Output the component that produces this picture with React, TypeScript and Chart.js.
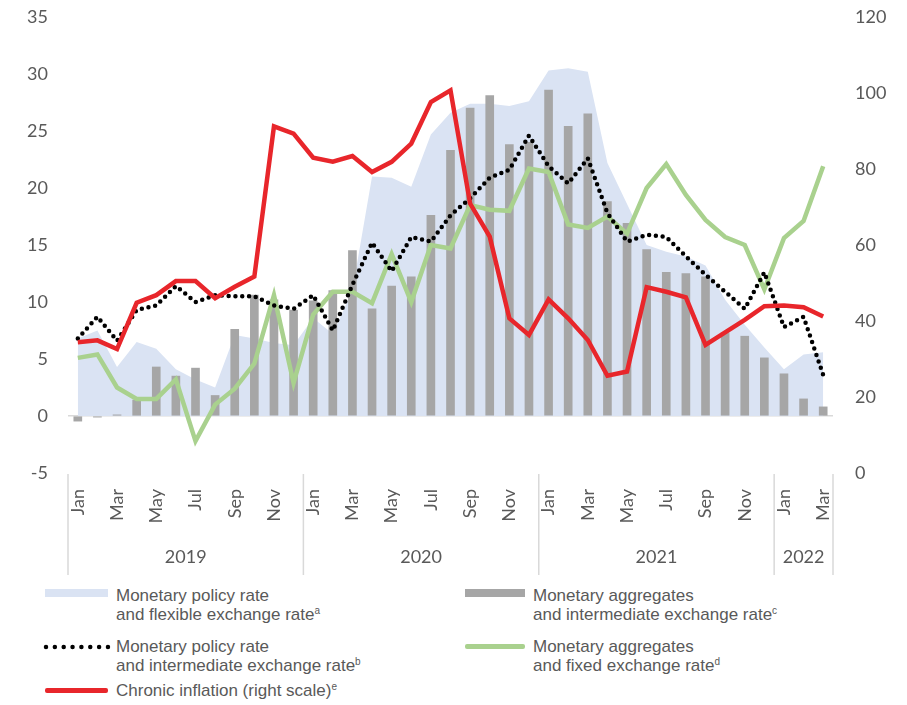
import React, { useEffect, useRef } from 'react';
import { Chart, registerables } from 'chart.js';

Chart.register(...registerables);

// ---- Data ----
const monthLabels = [
  'Jan','Feb','Mar','Apr','May','Jun','Jul','Aug','Sep','Oct','Nov','Dec',
  'Jan','Feb','Mar','Apr','May','Jun','Jul','Aug','Sep','Oct','Nov','Dec',
  'Jan','Feb','Mar','Apr','May','Jun','Jul','Aug','Sep','Oct','Nov','Dec',
  'Jan','Feb','Mar',
];
const yearLabels = ['2019', '2020', '2021', '2022'];
const monthsPerYear = [12, 12, 12, 3];

const leftTicks = [-5, 0, 5, 10, 15, 20, 25, 30, 35];
const rightTicks = [0, 20, 40, 60, 80, 100, 120];

// Monetary policy rate and flexible exchange rate (area)
const flexibleRate = [
  6.8, 7.5, 4.3, 6.5, 5.9, 4.1, 3.2, 2.5, 7.1, 6.8, 6.4, 6.2,
  8.6, 7.2, 11.0, 21.0, 20.9, 20.1, 24.7, 26.6, 27.4, 27.4, 27.2, 27.6,
  30.3, 30.5, 30.2, 22.2, 18.6, 15.0, 14.4, 14.0, 13.2, 10.2, 8.0, 6.0,
  4.1, 5.4, 5.6,
];
// Monetary aggregates and intermediate exchange rate (bars)
const aggIntermediate = [
  -0.45, -0.1, 0.1, 1.4, 4.3, 3.5, 4.2, 1.8, 7.6, 10.6, 10.2, 9.3,
  10.1, 11.0, 14.5, 9.4, 11.4, 12.2, 17.6, 23.3, 27.0, 28.1, 23.8, 24.0,
  28.6, 25.4, 26.5, 18.8, 16.9, 14.6, 12.6, 12.5, 12.2, 7.3, 7.0, 5.1,
  3.7, 1.5, 0.8,
];
// Monetary policy rate and intermediate exchange rate (dotted)
const policyIntermediate = [
  6.8, 8.7, 6.6, 9.3, 9.7, 11.4, 10.0, 10.6, 10.5, 10.5, 9.7, 9.4,
  10.6, 7.5, 11.5, 15.2, 12.7, 15.7, 15.3, 17.6, 19.1, 20.9, 21.6, 24.6,
  21.9, 20.4, 22.6, 17.8, 15.3, 15.9, 15.7, 14.0, 12.4, 10.9, 9.4, 12.6,
  7.8, 8.7, 3.6,
];
// Monetary aggregates and fixed exchange rate (green)
const fixedAgg = [
  5.1, 5.4, 2.5, 1.5, 1.5, 3.2, -2.2, 1.0, 2.4, 4.6, 10.6, 2.9,
  8.9, 10.9, 10.9, 9.9, 14.2, 10.0, 15.0, 14.7, 18.5, 18.1, 18.0, 21.7,
  21.4, 16.8, 16.5, 17.5, 16.0, 20.0, 22.1, 19.4, 17.2, 15.7, 15.0, 11.1,
  15.6, 17.1, 21.9,
];
// Chronic inflation (right scale)
const chronicInflation = [
  34.4, 34.9, 32.6, 44.8, 46.8, 50.5, 50.5, 46.0, 49.0, 51.7, 91.2, 89.3,
  83.0, 81.9, 83.4, 79.2, 81.9, 86.7, 97.6, 100.7, 70.9, 62.2, 40.7, 36.3,
  45.7, 40.7, 35.0, 25.6, 26.7, 48.9, 47.7, 46.2, 33.7, 37.0, 40.3, 43.9,
  44.1, 43.6, 41.2,
];

const TEXT = '#595959';
const TICK_FONT = 'Lato, "Open Sans", sans-serif';
const LEGEND_FONT = '"Liberation Sans", Arial, sans-serif';

const yearGroupPlugin = {
  id: 'yearGroups',
  afterDraw(chart: any) {
    const { ctx, chartArea } = chart;
    const x = chart.scales.x;
    const step = x.getPixelForValue(1) - x.getPixelForValue(0);
    ctx.save();
    ctx.strokeStyle = '#d9d9d9';
    ctx.lineWidth = 1.5;
    let start = 0;
    const top = chartArea.bottom + 1;
    const bottom = 575;
    const drawSep = (px: number) => {
      ctx.beginPath();
      ctx.moveTo(px, top);
      ctx.lineTo(px, bottom);
      ctx.stroke();
    };
    drawSep(x.getPixelForValue(0) - step / 2);
    ctx.fillStyle = TEXT;
    ctx.font = `18px ${TICK_FONT}`;
    ctx.textAlign = 'center';
    ctx.textBaseline = 'middle';
    yearLabels.forEach((yl, i) => {
      const n = monthsPerYear[i];
      const left = x.getPixelForValue(start) - step / 2;
      const right = x.getPixelForValue(start + n - 1) + step / 2;
      drawSep(right);
      ctx.fillText(yl, (left + right) / 2, 557);
      start += n;
    });
    ctx.restore();
  },
};

function App() {
  const canvasRef = useRef<HTMLCanvasElement | null>(null);

  useEffect(() => {
    const canvas = canvasRef.current;
    if (!canvas) return;
    const chart = new Chart(canvas, {
      type: 'bar',
      data: {
        labels: monthLabels,
        datasets: [
          {
            type: 'line',
            label: 'Monetary policy rate and flexible exchange rate',
            data: flexibleRate,
            yAxisID: 'y',
            fill: 'origin',
            backgroundColor: '#dae3f3',
            borderColor: 'transparent',
            borderWidth: 0,
            pointRadius: 0,
            tension: 0,
            order: 4,
          } as any,
          {
            type: 'bar',
            label: 'Monetary aggregates and intermediate exchange rate',
            data: aggIntermediate,
            yAxisID: 'y',
            backgroundColor: '#a6a6a6',
            barThickness: 8,
            order: 3,
          } as any,
          {
            type: 'line',
            label: 'Monetary aggregates and fixed exchange rate',
            data: fixedAgg,
            yAxisID: 'y',
            borderColor: '#a9d18e',
            borderWidth: 4.5,
            pointRadius: 0,
            fill: false,
            tension: 0,
            order: 2,
          } as any,
          {
            type: 'line',
            label: 'Monetary policy rate and intermediate exchange rate',
            data: policyIntermediate,
            yAxisID: 'y',
            borderColor: '#000000',
            borderWidth: 4.5,
            borderDash: [0, 6.8],
            borderCapStyle: 'round',
            pointRadius: 0,
            fill: false,
            tension: 0,
            order: 1,
          } as any,
          {
            type: 'line',
            label: 'Chronic inflation (right scale)',
            data: chronicInflation,
            yAxisID: 'y1',
            borderColor: '#e8262b',
            borderWidth: 4.5,
            pointRadius: 0,
            fill: false,
            tension: 0,
            order: 0,
          } as any,
        ],
      },
      options: {
        responsive: false,
        animation: false,
        devicePixelRatio: 1,
        layout: { padding: { top: 17, left: 0, right: 0, bottom: 0 } },
        plugins: {
          legend: { display: false },
          tooltip: { enabled: false },
        },
        scales: {
          x: {
            type: 'category',
            offset: true,
            grid: { display: false, drawTicks: false },
            border: { display: false },
            ticks: {
              autoSkip: false,
              minRotation: 90,
              maxRotation: 90,
              padding: 16,
              color: TEXT,
              font: { family: TICK_FONT, size: 18 },
              callback: (_v: any, i: number) => (i % 2 === 0 ? monthLabels[i] : ''),
            },
            afterFit: (s: any) => {
              s.height = 107;
              s.paddingLeft = 0;
              s.paddingRight = 0;
              s.paddingTop = 0;
              s.paddingBottom = 0;
            },
          },
          y: {
            position: 'left',
            min: leftTicks[0],
            max: leftTicks[leftTicks.length - 1],
            afterBuildTicks: (s: any) => {
              s.ticks = leftTicks.map((v) => ({ value: v }));
            },
            ticks: {
              padding: 20,
              color: TEXT,
              font: { family: TICK_FONT, size: 18 },
            },
            grid: {
              drawTicks: false,
              lineWidth: 1.5,
              color: (c: any) => (c.tick && c.tick.value === 0 ? '#d9d9d9' : 'rgba(0,0,0,0)'),
            },
            border: { display: false },
            afterFit: (s: any) => {
              s.width = 68;
              s.paddingTop = 0;
              s.paddingBottom = 0;
            },
          },
          y1: {
            position: 'right',
            min: rightTicks[0],
            max: rightTicks[rightTicks.length - 1],
            afterBuildTicks: (s: any) => {
              s.ticks = rightTicks.map((v) => ({ value: v }));
            },
            ticks: {
              padding: 22,
              color: TEXT,
              font: { family: TICK_FONT, size: 18 },
            },
            grid: { display: false, drawTicks: false },
            border: { display: false },
            afterFit: (s: any) => {
              s.width = 74;
              s.paddingTop = 0;
              s.paddingBottom = 0;
            },
          },
        },
      } as any,
      plugins: [yearGroupPlugin],
    });
    return () => chart.destroy();
  }, []);

  const textStyle: React.CSSProperties = {
    position: 'absolute',
    fontFamily: LEGEND_FONT,
    fontSize: 17,
    lineHeight: '19px',
    color: TEXT,
    whiteSpace: 'nowrap',
  };
  const supStyle: React.CSSProperties = { fontSize: 10, verticalAlign: 'top', lineHeight: '10px', position: 'relative', top: 1 };

  return (
    <div style={{ position: 'absolute', left: 0, top: 0, width: 907, height: 705, background: '#ffffff', overflow: 'hidden' }}>
      <canvas ref={canvasRef} width={907} height={580} style={{ position: 'absolute', left: 0, top: 0, width: 907, height: 580 }} />
      {/* Legend */}
      <div style={{ position: 'absolute', left: 45, top: 589, width: 63, height: 8, background: '#dae3f3' }} />
      <div style={{ ...textStyle, left: 116, top: 586 }}>
        Monetary policy rate<br />and flexible exchange rate<span style={supStyle}>a</span>
      </div>

      <div style={{ position: 'absolute', left: 465, top: 589, width: 60, height: 8, background: '#a6a6a6' }} />
      <div style={{ ...textStyle, left: 533, top: 586 }}>
        Monetary aggregates<br />and intermediate exchange rate<span style={supStyle}>c</span>
      </div>

      <svg style={{ position: 'absolute', left: 43, top: 642 }} width={68} height={10}>
        <line x1={3} y1={5} x2={65} y2={5} stroke="#000" strokeWidth={4.5} strokeDasharray="0 8.85" strokeLinecap="round" />
      </svg>
      <div style={{ ...textStyle, left: 116, top: 637 }}>
        Monetary policy rate<br />and intermediate exchange rate<span style={supStyle}>b</span>
      </div>

      <div style={{ position: 'absolute', left: 465, top: 644, width: 60, height: 5, background: '#a9d18e', borderRadius: 2 }} />
      <div style={{ ...textStyle, left: 533, top: 637 }}>
        Monetary aggregates<br />and fixed exchange rate<span style={supStyle}>d</span>
      </div>

      <div style={{ position: 'absolute', left: 45, top: 688, width: 63, height: 5, background: '#e8262b', borderRadius: 2 }} />
      <div style={{ ...textStyle, left: 116, top: 681 }}>
        Chronic inflation (right scale)<span style={supStyle}>e</span>
      </div>
    </div>
  );
}

export default App;
